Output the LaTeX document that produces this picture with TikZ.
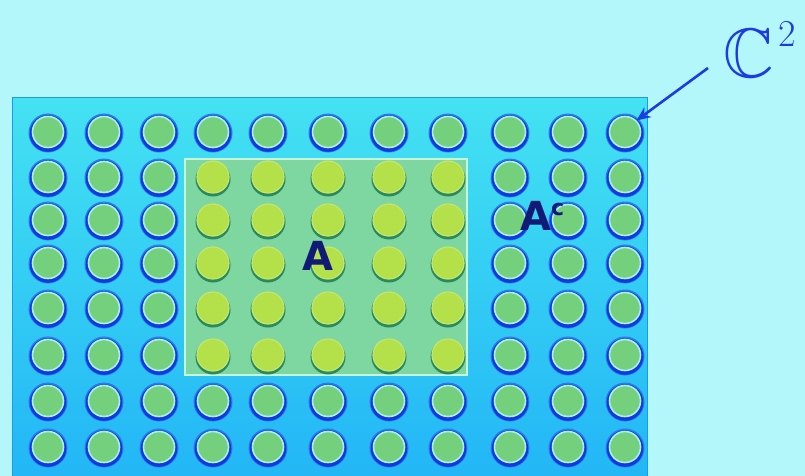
\documentclass[tikz,border=0pt]{standalone}
\usepackage{amssymb}
\usepackage{fontspec}
\newfontfamily\labelfont{DejaVu Sans}
\usetikzlibrary{arrows.meta}
\definecolor{bg}{HTML}{B4F7FB}
\definecolor{planetop}{HTML}{44E2F2}
\definecolor{planebot}{HTML}{22B6F6}
\definecolor{planeedge}{HTML}{1A9AE8}
\definecolor{dotgreen}{HTML}{74D07C}
\definecolor{ringblue}{HTML}{1438E0}
\definecolor{ringlight}{HTML}{A8F0E8}
\definecolor{dotyellow}{HTML}{B4E04A}
\definecolor{ringdark}{HTML}{2A8A5E}
\definecolor{afill}{HTML}{7ED6A0}
\definecolor{aedge}{HTML}{C8F4D8}
\definecolor{navy}{HTML}{121A78}
\definecolor{arrowblue}{HTML}{1A3CE0}
\tikzset{
  plane/.style={draw=planeedge, line width=1.2pt, top color=planetop, bottom color=planebot, inner sep=0pt, anchor=north west},
  setA/.style={draw=aedge, line width=1.5pt, fill=afill, inner sep=0pt, anchor=north west},
  greendot/.style={circle, fill=dotgreen, draw=ringlight, line width=1.6pt, minimum size=31pt, inner sep=0pt},
  yellowdot/.style={circle, fill=dotyellow, draw=dotyellow!80!white, line width=1.2pt, minimum size=32pt, inner sep=0pt},
  biglabel/.style={text=navy, font=\labelfont\bfseries\fontsize{40}{40}\selectfont, inner sep=0pt},
  pointer/.style={draw=arrowblue, line width=2.6pt, -{Stealth[length=14pt,width=12pt]}}
}
\begin{document}
\begin{tikzpicture}[x=1pt,y=-1pt]
\useasboundingbox (0,0) rectangle (805,476);
\fill[bg] (0,0) rectangle (805,476);
\node[plane, minimum width=635pt, minimum height=380pt] (plane) at (12,97) {};
\node[setA, minimum width=282pt, minimum height=216pt] (A) at (184,158) {};
\foreach \x [count=\i] in {48,104,159,213,268,328,389,448,510,568,625}{
  \foreach \y [count=\j] in {132,177,220,263,308,355,401,447}{
    \ifnum\i>3 \ifnum\i<9 \ifnum\j>1 \ifnum\j<7
      \def\dotkind{1}\else\def\dotkind{0}\fi\else\def\dotkind{0}\fi\else\def\dotkind{0}\fi\else\def\dotkind{0}\fi
    \ifnum\dotkind=1
      \fill[ringdark] (\x,\y+2) circle (17.5pt);
      \node[yellowdot] (c-\i-\j) at (\x,\y) {};
    \else
      \fill[ringblue!60!planetop] (\x,\y+1) circle (19.5pt);
      \fill[ringblue] (\x,\y+1.5) circle (18.3pt);
      \node[greendot] (c-\i-\j) at (\x,\y) {};
    \fi
  }
}
\node[biglabel] (la) at (318,256) {A};
\node[biglabel, anchor=base west] (lac) at (520,230) {A\raisebox{15pt}{\fontsize{22}{22}\selectfont c}};
\node[text=arrowblue, anchor=base west, inner sep=0pt] (C2) at (723,78) {\fontsize{70}{70}\selectfont$\mathbb{C}$\hspace{5pt}\raisebox{31pt}{\fontsize{38}{38}\selectfont 2}};
\coordinate (tail) at (708,68);
\draw[pointer] (tail) -- (c-11-1.north east);
\end{tikzpicture}
\end{document}
